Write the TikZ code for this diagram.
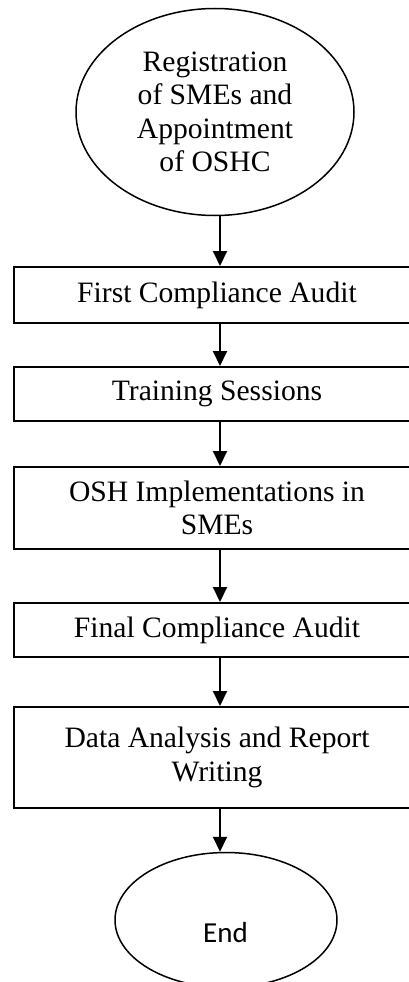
\documentclass[tikz,border=0pt]{standalone}
\usepackage{fontspec}
\setmainfont{Liberation Serif}
\newfontfamily\calfont{Carlito}
\usetikzlibrary{shapes.geometric,arrows.meta}
\begin{document}
\begin{tikzpicture}[x=1pt,y=-1pt,
  every node/.style={font=\fontsize{29.6}{33.5}\selectfont},
  procbox/.style={draw, line width=2pt, rectangle, minimum width=406pt, inner sep=0pt, align=center},
  oval/.style={draw, line width=1.5pt, ellipse, inner sep=0pt},
  flow/.style={line width=2pt, -{Triangle[length=15pt,width=14pt]}}]
\useasboundingbox (0,0) rectangle (409,982);
\coordinate (col) at (220,0);
\node[oval, minimum width=278pt, minimum height=207pt, align=center] (reg) at (215,112)
  {Registration\\of SMEs and\\Appointment\\of OSHC};
\node[procbox, minimum height=56pt] (b1) at (217,295) {First Compliance Audit};
\node[procbox, minimum height=54pt] (b2) at (217,394) {Training Sessions};
\node[procbox, minimum height=82pt] (b3) at (217,508) {OSH Implementations in\\SMEs};
\node[procbox, minimum height=54pt] (b4) at (217,630) {Final Compliance Audit};
\node[procbox, minimum height=101pt] (b5) at (217,757.5) {Data Analysis and Report\\Writing};
\node[oval, minimum width=222pt, minimum height=135pt] (endo) at (226,920) {};
\node[font=\calfont\fontsize{29}{33}\selectfont, inner sep=0pt] (endt) at (225.5,933) {End};
\draw[flow] (reg.south -| col) -- (b1.north -| col);
\draw[flow] (b1.south -| col) -- (b2.north -| col);
\draw[flow] (b2.south -| col) -- (b3.north -| col);
\draw[flow] (b3.south -| col) -- (b4.north -| col);
\draw[flow] (b4.south -| col) -- (b5.north -| col);
\draw[flow] (b5.south -| col) -- (endo.north -| col);
\end{tikzpicture}
\end{document}
